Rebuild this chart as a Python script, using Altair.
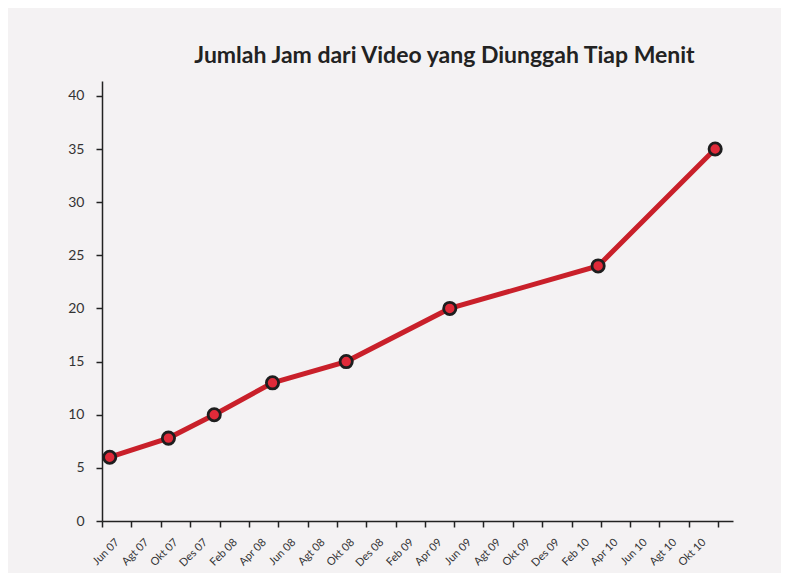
import json
import altair as alt
import pandas as pd

# data
dates = ["2007-06-17", "2007-10-17", "2008-01-20", "2008-05-20",
         "2008-10-20", "2009-05-23", "2010-03-27", "2010-11-25"]
hours = [6, 7.8, 10, 13, 15, 20, 24, 35]

tick_labels = ["Jun 07", "Agt 07", "Okt 07", "Des 07", "Feb 08", "Apr 08",
               "Jun 08", "Agt 08", "Okt 08", "Des 08", "Feb 09", "Apr 09",
               "Jun 09", "Agt 09", "Okt 09", "Des 09", "Feb 10", "Apr 10",
               "Jun 10", "Agt 10", "Okt 10", ""]
tick_year_month = [(2007 + (5 + 2 * i) // 12, (5 + 2 * i) % 12 + 1) for i in range(len(tick_labels))]
y_ticks = [0, 5, 10, 15, 20, 25, 30, 35, 40]

df = pd.DataFrame({"date": dates, "hours": hours})

FONT = "Lato"
BG = "#f4f2f3"

label_expr = (json.dumps(tick_labels)
              + "[round(((year(datum.value)-2007)*12+month(datum.value)-5)/2)]")

x = alt.X(
    "date:T",
    scale=alt.Scale(domain=[alt.DateTime(year=2007, month=6, date=1),
                            alt.DateTime(year=2011, month=1, date=1)]),
    axis=alt.Axis(
        title=None,
        values=[alt.DateTime(year=y, month=m, date=1) for y, m in tick_year_month],
        labelExpr=label_expr,
        labelAngle=-45,
        labelFontSize=11,
        labelFont=FONT,
        labelColor="#333333",
        labelPadding=9,
        labelOffset=11,
        tickSize=6,
        tickWidth=1.5,
        tickColor="#222222",
        domainColor="#222222",
        domainWidth=1.5,
        grid=False,
        labelOverlap=False,
    ),
)
y = alt.Y(
    "hours:Q",
    scale=alt.Scale(domain=[0, 41.4], nice=False),
    axis=alt.Axis(
        title=None,
        values=y_ticks,
        labelFontSize=14,
        labelFont=FONT,
        labelColor="#333333",
        labelPadding=12,
        tickSize=6,
        tickWidth=1.5,
        tickColor="#222222",
        domainColor="#222222",
        domainWidth=1.5,
        grid=False,
    ),
)

line = alt.Chart(df).mark_line(color="#c9202a", strokeWidth=5).encode(x=x, y=y)
pts = alt.Chart(df).mark_point(
    filled=True, fill="#e02a39", stroke="#1e1e1e", strokeWidth=2.8,
    size=150, opacity=1, shape="circle"
).encode(x=x, y=y)

chart = (line + pts).properties(
    width=631,
    height=440,
    background=BG,
    autosize=alt.AutoSizeParams(type="none"),
    padding={"left": 94, "top": 73, "right": 48, "bottom": 52},
    title=alt.TitleParams(
        "Jumlah Jam dari Video yang Diunggah Tiap Menit",
        font=FONT, fontSize=23, fontWeight="bold", color="#222222",
        anchor="middle", dx=27, offset=13,
    ),
).configure_view(stroke=None)

chart.save("out.html", embed_options={"renderer": "svg", "actions": False})
